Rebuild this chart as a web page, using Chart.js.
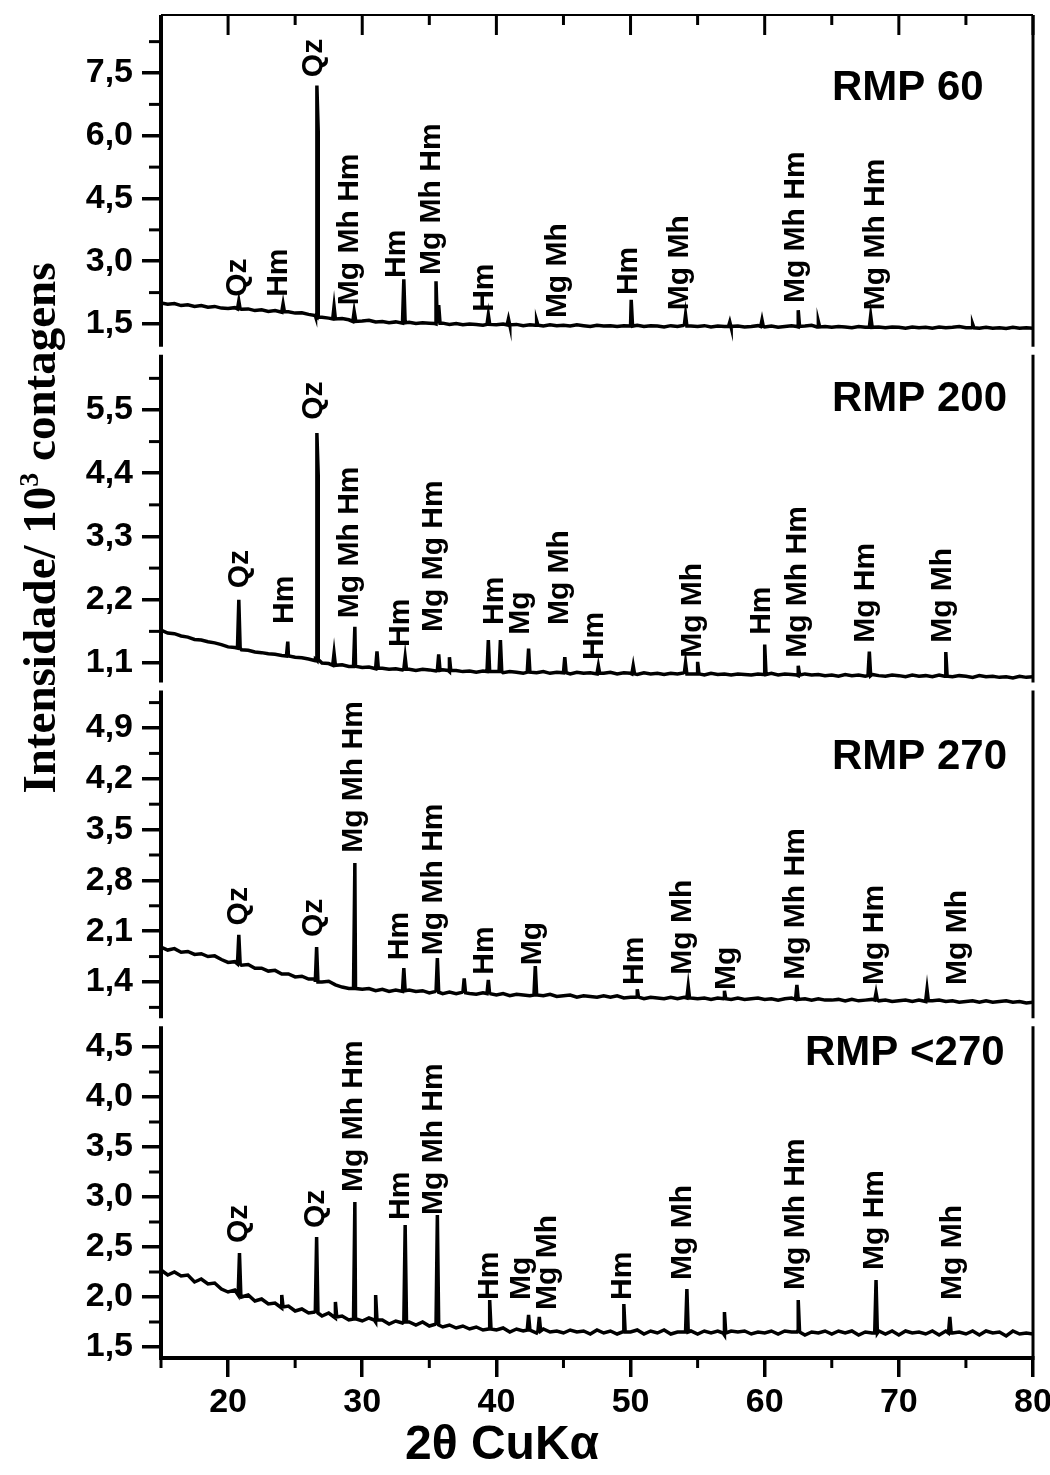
<!DOCTYPE html>
<html>
<head>
<meta charset="utf-8">
<script src="https://cdn.jsdelivr.net/npm/chart.js@4"></script>
<style>
  html, body { margin: 0; padding: 0; background: #fff; }
  #wrap { width: 1050px; height: 1475px; }
</style>
</head>
<body>
<div id="wrap"><canvas id="xrd"></canvas></div>
<script>
// baselines are read every 0.5 deg, from 15 to 80 deg 2theta
const scanStart = 15;
const scanStep = 0.5;

const samples = ['RMP 60', 'RMP 200', 'RMP 270', 'RMP <270'];

// background intensity (10^3 counts)
const base60 = [
  2.00,1.97,1.99,1.94,1.96,1.92,1.94,1.90,1.92,1.88,
  1.87,1.89,1.85,1.86,1.82,1.84,1.80,1.82,1.78,1.79,
  1.76,1.77,1.73,1.70,1.66,1.64,1.62,1.63,1.60,1.61,
  1.57,1.59,1.55,1.56,1.53,1.55,1.52,1.54,1.51,1.53,
  1.52,1.50,1.52,1.49,1.51,1.48,1.50,1.49,1.47,1.50,
  1.48,1.50,1.47,1.49,1.46,1.48,1.47,1.45,1.48,1.46,
  1.47,1.45,1.48,1.46,1.44,1.47,1.45,1.46,1.44,1.46,
  1.45,1.47,1.44,1.46,1.45,1.43,1.46,1.44,1.47,1.45,
  1.44,1.46,1.43,1.45,1.44,1.42,1.45,1.43,1.44,1.46,
  1.43,1.45,1.42,1.44,1.46,1.43,1.45,1.47,1.43,1.44,
  1.42,1.44,1.43,1.41,1.44,1.42,1.45,1.43,1.41,1.43,
  1.42,1.40,1.43,1.41,1.42,1.40,1.43,1.41,1.42,1.44,
  1.41,1.43,1.40,1.42,1.40,1.41,1.39,1.42,1.40,1.41,
  1.40
];
const base200 = [
  1.67,1.62,1.61,1.57,1.55,1.51,1.50,1.47,1.45,1.42,
  1.38,1.37,1.33,1.32,1.29,1.28,1.26,1.25,1.23,1.22,
  1.20,1.19,1.17,1.14,1.10,1.09,1.06,1.07,1.04,1.05,
  1.02,1.03,1.00,1.01,0.99,1.00,0.98,0.99,0.97,0.99,
  0.98,0.96,0.98,0.95,0.97,0.95,0.96,0.94,0.96,0.95,
  0.95,0.93,0.95,0.94,0.92,0.94,0.93,0.95,0.92,0.94,
  0.93,0.91,0.94,0.92,0.93,0.91,0.92,0.94,0.91,0.93,
  0.92,0.90,0.93,0.91,0.92,0.90,0.92,0.91,0.93,0.91,
  0.91,0.89,0.92,0.90,0.91,0.89,0.91,0.90,0.89,0.91,
  0.90,0.92,0.89,0.91,0.90,0.88,0.91,0.89,0.90,0.88,
  0.89,0.87,0.90,0.88,0.89,0.87,0.90,0.88,0.87,0.89,
  0.88,0.86,0.89,0.87,0.88,0.86,0.89,0.87,0.86,0.88,
  0.87,0.85,0.88,0.86,0.87,0.85,0.86,0.84,0.87,0.85,
  0.86
];
const base270 = [
  1.88,1.84,1.86,1.81,1.82,1.78,1.79,1.75,1.76,1.71,
  1.67,1.68,1.63,1.64,1.59,1.59,1.55,1.56,1.51,1.51,
  1.47,1.48,1.44,1.44,1.40,1.41,1.36,1.33,1.31,1.33,
  1.30,1.31,1.28,1.30,1.27,1.29,1.27,1.29,1.27,1.28,
  1.25,1.27,1.24,1.26,1.24,1.26,1.24,1.23,1.25,1.23,
  1.22,1.24,1.21,1.23,1.22,1.21,1.23,1.21,1.23,1.20,
  1.21,1.22,1.19,1.21,1.20,1.19,1.21,1.19,1.21,1.18,
  1.19,1.20,1.17,1.19,1.18,1.17,1.19,1.17,1.19,1.18,
  1.17,1.18,1.16,1.18,1.19,1.16,1.18,1.16,1.17,1.18,
  1.16,1.17,1.15,1.17,1.18,1.16,1.17,1.15,1.17,1.15,
  1.15,1.16,1.14,1.16,1.14,1.15,1.16,1.14,1.15,1.13,
  1.14,1.15,1.13,1.15,1.13,1.14,1.15,1.13,1.14,1.12,
  1.13,1.14,1.12,1.14,1.12,1.13,1.14,1.12,1.13,1.11,
  1.12
];
const baseLt270 = [
  2.27,2.22,2.25,2.21,2.22,2.15,2.18,2.13,2.14,2.08,
  2.05,2.07,2.00,2.02,1.96,1.98,1.93,1.94,1.89,1.91,
  1.86,1.88,1.84,1.85,1.81,1.84,1.79,1.81,1.77,1.79,
  1.76,1.79,1.75,1.77,1.73,1.76,1.74,1.75,1.72,1.75,
  1.71,1.73,1.70,1.72,1.69,1.71,1.68,1.70,1.67,1.69,
  1.67,1.69,1.65,1.68,1.66,1.67,1.64,1.68,1.65,1.66,
  1.64,1.67,1.65,1.66,1.63,1.67,1.64,1.66,1.63,1.66,
  1.65,1.67,1.63,1.66,1.64,1.67,1.63,1.65,1.65,1.66,
  1.63,1.66,1.64,1.66,1.62,1.66,1.65,1.66,1.63,1.65,
  1.64,1.66,1.63,1.66,1.65,1.67,1.62,1.65,1.64,1.66,
  1.63,1.66,1.64,1.66,1.62,1.65,1.64,1.66,1.63,1.66,
  1.62,1.66,1.64,1.65,1.63,1.66,1.62,1.66,1.64,1.65,
  1.63,1.66,1.62,1.66,1.64,1.65,1.61,1.66,1.63,1.64,
  1.63
];

// peaks: [2theta, foot, top]
const peaks60 = [
  [20.8,1.86,2.05],[24.1,1.79,1.98],[26.62,1.68,7.2],[26.72,1.66,6.1],[27.9,1.62,1.92],
  [29.4,1.56,1.8],[33.1,1.53,2.57],[35.5,1.51,2.52],[35.7,1.52,1.95],[39.4,1.49,1.72],
  [40.9,1.48,1.62],[43.0,1.47,1.58],[50.05,1.45,2.08],[54.1,1.45,1.72],[57.4,1.44,1.55],
  [59.8,1.44,1.6],[62.5,1.44,1.83],[64.0,1.43,1.56],[67.9,1.42,1.7],[75.5,1.41,1.5]
];
const peaks200 = [
  [20.8,1.36,2.2],[24.45,1.22,1.47],[26.62,1.16,5.1],[26.72,1.14,4.37],[27.9,1.06,1.27],
  [29.45,1.04,1.73],[31.1,1.01,1.3],[33.2,0.99,1.2],[35.7,0.97,1.25],[36.5,0.97,1.2],
  [39.4,0.95,1.5],[40.3,0.95,1.5],[42.4,0.94,1.35],[45.1,0.93,1.2],[47.6,0.92,1.05],
  [50.2,0.91,1.05],[54.1,0.91,1.1],[55.0,0.91,1.12],[60.0,0.9,1.42],[62.5,0.89,1.05],
  [67.8,0.88,1.3],[73.5,0.87,1.29]
];
const peaks270 = [
  [20.8,1.65,2.05],[26.6,1.40,1.88],[29.45,1.31,3.04],[33.1,1.28,1.59],[35.6,1.26,1.73],
  [37.6,1.25,1.45],[39.4,1.24,1.43],[42.9,1.22,1.62],[50.5,1.19,1.3],[54.3,1.18,1.34],
  [57.0,1.17,1.28],[62.4,1.16,1.36],[68.3,1.15,1.25],[72.1,1.14,1.3]
];
const peaksLt270 = [
  [20.85,2.02,2.44],[24.0,1.9,2.02],[26.6,1.84,2.6],[28.0,1.8,1.95],[29.45,1.78,2.95],
  [31.0,1.77,2.02],[33.2,1.75,2.72],[35.6,1.72,2.82],[39.5,1.68,1.97],[42.4,1.67,1.82],
  [43.2,1.66,1.8],[49.5,1.65,1.93],[54.2,1.65,2.08],[57.0,1.64,1.85],[62.5,1.65,1.97],
  [68.3,1.64,2.17],[73.8,1.64,1.8]
];

// phase labels: [2theta, intensity where the text starts, text]
const labels60 = [
  [20.75,2.15,'Qz'],[23.8,2.15,'Hm'],[26.4,7.4,'Qz'],[29.1,1.95,'Mg Mh Hm'],[32.6,2.6,'Hm'],
  [35.2,2.67,'Mg Mh Hm'],[39.1,1.79,'Hm'],[44.6,1.64,'Mg Mh'],[49.9,2.19,'Hm'],
  [53.7,1.83,'Mg Mh'],[62.3,2.0,'Mg Mh Hm'],[68.3,1.83,'Mg Mh Hm']
];
const labels200 = [
  [20.9,2.4,'Qz'],[24.2,1.78,'Hm'],[26.4,5.33,'Qz'],[29.1,1.88,'Mg Mh Hm'],[32.9,1.38,'Hm'],
  [35.3,1.64,'Mg Mg Hm'],[39.9,1.76,'Hm'],[41.8,1.59,'Mg'],[44.7,1.76,'Mg Mh'],[47.3,1.15,'Hm'],
  [54.6,1.19,'Mg Mh'],[59.8,1.59,'Hm'],[62.5,1.19,'Mg Mh Hm'],[67.5,1.45,'Mg Hm'],[73.3,1.45,'Mg Mh']
];
const labels270 = [
  [20.8,2.18,'Qz'],[26.4,2.02,'Qz'],[29.4,3.18,'Mg Mh Hm'],[32.8,1.70,'Hm'],[35.3,1.77,'Mg Mh Hm'],
  [39.1,1.50,'Hm'],[42.7,1.63,'Mg'],[50.3,1.36,'Hm'],[53.9,1.50,'Mg Mh'],[57.2,1.29,'Mg'],
  [62.3,1.43,'Mg Mh Hm'],[68.2,1.36,'Mg Hm'],[74.4,1.36,'Mg Mh']
];
const labelsLt270 = [
  [20.8,2.54,'Qz'],[26.5,2.69,'Qz'],[29.4,3.05,'Mg Mh Hm'],[32.9,2.77,'Hm'],[35.3,2.82,'Mg Mh Hm'],
  [39.5,1.97,'Hm'],[41.9,1.97,'Mg'],[43.8,1.87,'Mg Mh'],[49.4,1.97,'Hm'],[53.9,2.17,'Mg Mh'],
  [62.3,2.07,'Mg Mh Hm'],[68.2,2.27,'Mg Hm'],[74.0,1.97,'Mg Mh']
];

const yTicks60 = [1.5, 3.0, 4.5, 6.0, 7.5];
const yTicks200 = [1.1, 2.2, 3.3, 4.4, 5.5];
const yTicks270 = [1.4, 2.1, 2.8, 3.5, 4.2, 4.9];
const yTicksLt270 = [1.5, 2.0, 2.5, 3.0, 3.5, 4.0, 4.5];
const xTicks = [20, 30, 40, 50, 60, 70, 80];

const bases = [base60, base200, base270, baseLt270];
const peaks = [peaks60, peaks200, peaks270, peaksLt270];
const labels = [labels60, labels200, labels270, labelsLt270];
const yTicks = [yTicks60, yTicks200, yTicks270, yTicksLt270];
const yRanges = [[0.86, 8.887], [0.691, 6.53], [0.845, 5.472], [1.39, 4.7475]];
const yIds = ['y0', 'y1', 'y2', 'y3'];

const sans = '"Liberation Sans", Arial, sans-serif';
const serif = '"Liberation Serif", "Times New Roman", serif';

function buildSeries(base, pk) {
  const pts = base.map((v, i) => ({x: scanStart + i * scanStep, y: v}));
  pk.forEach(([p, foot, top]) => {
    pts.push({x: p - 0.1, y: foot}, {x: p, y: top}, {x: p + 0.1, y: foot});
  });
  return pts.sort((a, b) => a.x - b.x);
}

function line(ctx, x1, y1, x2, y2) {
  ctx.beginPath();
  ctx.moveTo(x1, y1);
  ctx.lineTo(x2, y2);
  ctx.stroke();
}

// frame, minor ticks and top ticks like the original plot
const framePlugin = {
  id: 'frame',
  afterDatasetsDraw(chart) {
    const {ctx, chartArea: a, scales} = chart;
    const x = scales.x;
    ctx.save();
    ctx.strokeStyle = '#000';
    yIds.forEach((id, i) => {
      const s = scales[id];
      const top = i === 0 ? a.top : s.top + 4;
      const bottom = i === 3 ? a.bottom : s.bottom - 4;
      ctx.lineWidth = 4;
      line(ctx, a.left, top, a.left, bottom);
      ctx.lineWidth = 3;
      line(ctx, a.right, top, a.right, bottom);
      const t = yTicks[i];
      const half = (t[1] - t[0]) / 2;
      const minors = [t[0] - half].concat(t.map(v => v + half));
      minors.forEach(v => {
        const py = s.getPixelForValue(v);
        if (py > top + 2 && py < bottom - 2) line(ctx, a.left - 12, py, a.left, py);
      });
    });
    ctx.lineWidth = 4;
    line(ctx, a.left - 2, a.bottom, a.right + 1.5, a.bottom);
    ctx.lineWidth = 2;
    line(ctx, a.left, a.top, a.right, a.top);
    ctx.lineWidth = 3;
    xTicks.forEach(v => {
      const px = x.getPixelForValue(v);
      line(ctx, px, a.top, px, a.top + 20);
      const pm = x.getPixelForValue(v - 5);
      line(ctx, pm, a.top, pm, a.top + 10);
      line(ctx, pm, a.bottom, pm, a.bottom + 10);
    });
    ctx.restore();
  }
};

// phase labels, panel names and axis titles
const textPlugin = {
  id: 'texts',
  afterDraw(chart) {
    const {ctx, scales} = chart;
    const x = scales.x;
    ctx.save();
    ctx.fillStyle = '#000';
    ctx.font = 'bold 30px ' + sans;
    ctx.textAlign = 'left';
    ctx.textBaseline = 'middle';
    labels.forEach((list, i) => {
      const s = scales[yIds[i]];
      list.forEach(([t, v, txt]) => {
        ctx.save();
        ctx.translate(x.getPixelForValue(t), s.getPixelForValue(v));
        ctx.rotate(-Math.PI / 2);
        ctx.fillText(txt, 0, 0);
        ctx.restore();
      });
    });

    const titlePos = [[832, 88], [832, 399], [832, 757], [805, 1053]];
    ctx.font = 'bold 42px ' + sans;
    samples.forEach((name, i) => ctx.fillText(name, titlePos[i][0], titlePos[i][1]));

    ctx.textAlign = 'center';
    ctx.font = 'bold 48px ' + sans;
    ctx.fillText('2θ CuKα', 502, 1446);

    // y title with superscript
    ctx.save();
    ctx.translate(55, 528);
    ctx.rotate(-Math.PI / 2);
    ctx.textAlign = 'left';
    ctx.textBaseline = 'alphabetic';
    const big = 'bold 47px ' + serif;
    const sup = 'bold 28px ' + serif;
    const p1 = 'Intensidade/ 10', p2 = '3', p3 = ' contagens';
    ctx.font = big;
    const w1 = ctx.measureText(p1).width, w3 = ctx.measureText(p3).width;
    ctx.font = sup;
    const w2 = ctx.measureText(p2).width;
    let cx = -(w1 + w2 + w3) / 2;
    ctx.font = big;
    ctx.fillText(p1, cx, 0);
    cx += w1;
    ctx.font = sup;
    ctx.fillText(p2, cx, -17);
    cx += w2;
    ctx.font = big;
    ctx.fillText(p3, cx, 0);
    ctx.restore();

    ctx.restore();
  }
};

const scales = {
  x: {
    type: 'linear', position: 'bottom', min: 15, max: 80,
    afterFit: s => { s.height = 117; s.paddingLeft = 0; s.paddingRight = 0; },
    afterBuildTicks: s => { s.ticks = xTicks.map(v => ({value: v})); },
    border: {display: false},
    grid: {drawOnChartArea: false, drawTicks: true, tickLength: 19, lineWidth: 3.5, color: '#000'},
    ticks: {color: '#000', padding: 5, autoSkip: false, maxRotation: 0,
      font: {family: sans, size: 34, weight: 'bold'}}
  }
};
yIds.forEach((id, i) => {
  scales[id] = {
    type: 'linear', position: 'left', stack: 'xrd', stackWeight: 1, weight: 4 - i,
    min: yRanges[i][0], max: yRanges[i][1],
    afterFit: s => { s.width = 161; s.paddingTop = 0; s.paddingBottom = 0; },
    afterBuildTicks: s => { s.ticks = yTicks[i].map(v => ({value: v})); },
    border: {display: false},
    grid: {drawOnChartArea: false, drawTicks: true, tickLength: 19, lineWidth: 3.5, color: '#000'},
    ticks: {color: '#000', padding: 9, autoSkip: false,
      font: {family: sans, size: 34, weight: 'bold'},
      callback: v => v.toFixed(1).replace('.', ',')}
  };
});

const ctx = document.getElementById('xrd').getContext('2d');
new Chart(ctx, {
  type: 'scatter',
  data: {
    datasets: samples.map((name, i) => ({
      label: name,
      data: buildSeries(bases[i], peaks[i]),
      yAxisID: yIds[i],
      showLine: true,
      borderColor: '#000',
      borderWidth: 3.5,
      pointRadius: 0,
      tension: 0
    }))
  },
  options: {
    responsive: true,
    maintainAspectRatio: false,
    animation: false,
    layout: {padding: {left: 0, top: 15, right: 17, bottom: 0}},
    plugins: {legend: {display: false}, tooltip: {enabled: false}},
    scales: scales
  },
  plugins: [framePlugin, textPlugin]
});
</script>
</body>
</html>
